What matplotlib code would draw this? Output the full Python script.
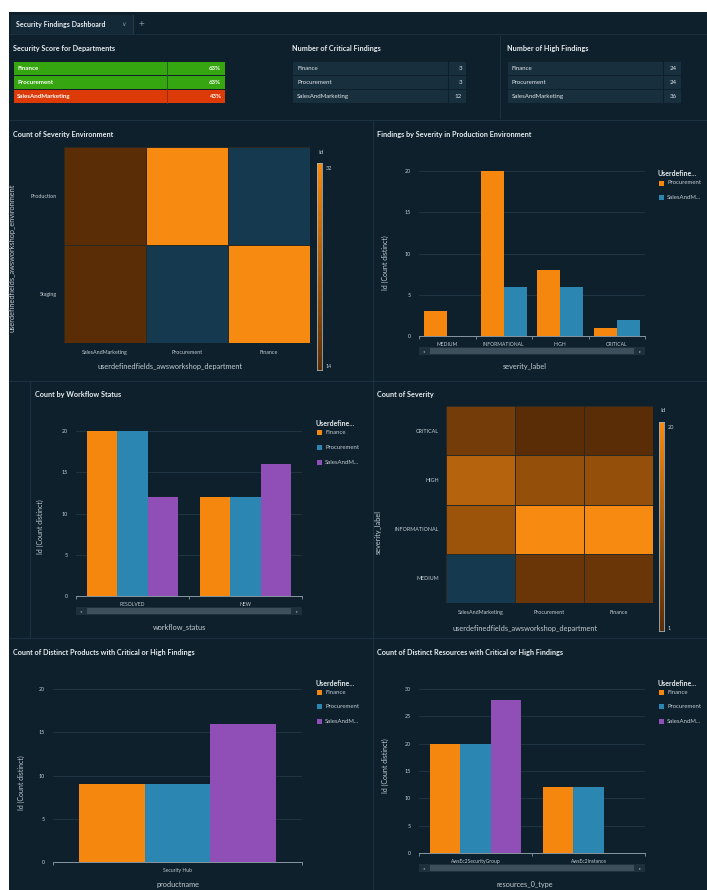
import matplotlib
matplotlib.use('Agg')
import matplotlib.pyplot as plt
import numpy as np
from matplotlib.patches import Rectangle
from matplotlib.lines import Line2D
from matplotlib.colors import LinearSegmentedColormap

plt.rcParams['font.family'] = ['Lato', 'DejaVu Sans']

# ---------------- data ----------------
departments = ['Finance', 'Procurement', 'SalesAndMarketing']
score_pct = [63, 63, 43]
critical_findings = [3, 3, 12]
high_findings = [24, 24, 36]

env_departments = ['SalesAndMarketing', 'Procurement', 'Finance']
environments = ['Production', 'Staging']
env_production = [14, 32, np.nan]
env_staging = [14, np.nan, 32]

prod_severity = ['MEDIUM', 'INFORMATIONAL', 'HIGH', 'CRITICAL']
prod_procurement = [3, 20, 8, 1]
prod_salesandmarketing = [0, 6, 6, 2]

workflow_status = ['RESOLVED', 'NEW']
wf_finance = [20, 12]
wf_procurement = [20, 12]
wf_salesandmarketing = [12, 16]

severity_rows = ['CRITICAL', 'HIGH', 'INFORMATIONAL', 'MEDIUM']
sev_salesandmarketing = [4, 12, 9, np.nan]
sev_procurement = [1, 8, 20, 3]
sev_finance = [1, 8, 20, 3]

products = ['Security Hub']
prod_finance_cnt = [9]
prod_procurement_cnt = [9]
prod_sales_cnt = [16]

resource_types = ['AwsEc2SecurityGroup', 'AwsEc2Instance']
res_finance = [20, 12]
res_procurement = [20, 12]
res_salesandmarketing = [28, 0]

# ---------------- style ----------------
W, H = 707, 890
BG = '#0e202c'
LINE = '#1d3241'
TXT = '#e8edf0'
TICK = '#c3ccd2'
ORANGE = '#f5870f'
BLUE = '#2b87b2'
PURPLE = '#8f4fb6'
NAVY = '#15394f'
GRID = '#1f3544'

fig = plt.figure(figsize=(W / 100, H / 100), dpi=100, facecolor='white')


def ax_px(x0, y0, x1, y1):
    a = fig.add_axes([x0 / W, 1 - y1 / H, (x1 - x0) / W, (y1 - y0) / H])
    a.set_facecolor('none')
    return a


def T(x, y, s, size=4.5, color=TXT, weight='normal', ha='left', va='center', **kw):
    fig.text(x / W, 1 - y / H, s, fontsize=size, color=color, weight=weight,
             ha=ha, va=va, **kw)


def R(x, y, w, h, color, z=1, **kw):
    fig.add_artist(Rectangle((x / W, 1 - (y + h) / H), w / W, h / H,
                             transform=fig.transFigure, facecolor=color,
                             edgecolor='none', zorder=z, **kw))


def L(x0, y0, x1, y1, color=LINE, lw=0.8):
    fig.add_artist(Line2D([x0 / W, x1 / W], [1 - y0 / H, 1 - y1 / H],
                          transform=fig.transFigure, color=color, lw=lw, zorder=1))


# background
R(9, 12, W - 9, H - 12, BG, z=-5)
# tab bar
R(11, 15, 122, 19, '#142937', z=-4)
T(16, 25, 'Security Findings Dashboard', size=5.0, weight='bold')
T(124, 24, '\u2228', size=4.5, color='#8495a0', ha='center')
L(133, 15, 133, 33, color='#26394a')
T(141, 24, '+', size=7, color='#8495a0', ha='center')
L(9, 34, W, 34, color='#1b2f3c')

# panel dividers
L(9, 120, W, 120)
L(9, 381, W, 381)
L(9, 638, W, 638)
L(373, 120, 373, H)
L(30, 381, 30, 638)
L(500, 36, 500, 118)

# ---------------- tables ----------------
T(13, 48, 'Security Score for Departments', size=5.2, weight='bold')
row_y = [62, 76, 90]
for i, (d, v) in enumerate(zip(departments, score_pct)):
    c = '#35a60f' if v >= 50 else '#dc3b07'
    R(14, row_y[i], 211, 13, c)
    L(167, row_y[i], 167, row_y[i] + 13, color='#1f5a10' if v >= 50 else '#8d2a08', lw=0.6)
    T(17, row_y[i] + 6.5, d, size=4.4, color='white', weight='bold')
    T(221, row_y[i] + 6.5, f'{v}%', size=4.4, color='white', weight='bold', ha='right')


def count_table(x0, x1, xdiv, title, values):
    T(x0 - 1, 48, title, size=5.2, weight='bold')
    for i, (d, v) in enumerate(zip(departments, values)):
        R(x0, row_y[i], x1 - x0, 13, '#18303e')
        L(xdiv, row_y[i], xdiv, row_y[i] + 13, color=BG, lw=0.8)
        T(x0 + 4, row_y[i] + 6.5, d, size=4.4, color='#dfe5e9')
        T(x1 - 4, row_y[i] + 6.5, str(v), size=4.4, color='#dfe5e9', ha='right')


count_table(293, 466, 448, 'Number of Critical Findings', critical_findings)
count_table(508, 681, 663, 'Number of High Findings', high_findings)

# ---------------- colormap ----------------
cmap = LinearSegmentedColormap.from_list('qs', ['#5a2d07', '#f78a10'])
cmap.set_bad(NAVY)


def heatmap(rect, data, rows, cols, vmin, vmax, cb_rect, title, tpos, xlabel, xlpos,
            ylabel, ylpos):
    ax = ax_px(*rect)
    arr = np.ma.masked_invalid(np.array(data, dtype=float))
    ax.pcolormesh(arr, cmap=cmap, vmin=vmin, vmax=vmax, edgecolors='#2a2a22',
                  linewidth=0.4)
    ax.set_xlim(0, len(cols))
    ax.set_ylim(len(rows), 0)
    ax.set_xticks(np.arange(len(cols)) + 0.5)
    ax.set_xticklabels(cols)
    ax.set_yticks(np.arange(len(rows)) + 0.5)
    ax.set_yticklabels(rows)
    ax.tick_params(length=0, labelsize=3.9, colors=TICK, pad=5)
    for s in ax.spines.values():
        s.set_visible(False)
    # colorbar
    cax = ax_px(*cb_rect)
    grad = np.linspace(vmax, vmin, 256).reshape(-1, 1)
    cax.imshow(grad, aspect='auto', cmap=cmap, vmin=vmin, vmax=vmax,
               extent=[0, 1, vmin, vmax])
    cax.set_xticks([])
    cax.set_yticks([])
    for s in cax.spines.values():
        s.set_color('#a7b0b6')
        s.set_linewidth(0.6)
    x1 = cb_rect[2] + 4
    T(x1, cb_rect[1] + 5, f'{vmax:g}', size=4.0, color=TICK)
    T(x1, cb_rect[3] - 3, f'{vmin:g}', size=4.0, color=TICK)
    T(cb_rect[0] + 1, cb_rect[1] - 11, 'Id', size=4.6, color=TICK)
    T(tpos[0], tpos[1], title, size=5.2, weight='bold')
    T(xlpos[0], xlpos[1], xlabel, size=5.3, color=TICK, ha='center')
    T(ylpos[0], ylpos[1], ylabel, size=5.3, color=TICK, ha='center', rotation=90)
    return ax


heatmap((64, 147, 310, 343), [env_production, env_staging], environments,
        env_departments, 14, 32, (317, 163, 322, 370),
        'Count of Severity Environment', (13, 135),
        'userdefinedfields_awsworkshop_department', (170, 367),
        'userdefinedfields_awsworkshop_environment', (12, 258))

sev_matrix = [[a, b, c] for a, b, c in zip(sev_salesandmarketing, sev_procurement, sev_finance)]
heatmap((446, 406, 653, 603), sev_matrix, severity_rows, env_departments, 1, 20,
        (659, 422, 664, 631), 'Count of Severity', (377, 395),
        'userdefinedfields_awsworkshop_department', (525, 628),
        'severity_label', (378, 532))


# ---------------- bar charts ----------------
def bar_chart(rect, cats, series, names, colors, ymax, ystep, bw, title, tpos,
              xlabel, xlpos, ylpos, legend_pos, scrollbar=True):
    ax = ax_px(*rect)
    x = np.arange(len(cats))
    n = len(series)
    for i, (vals, c) in enumerate(zip(series, colors)):
        ax.bar(x + (i - (n - 1) / 2) * bw, vals, bw, color=c, zorder=3)
    ax.set_xlim(-0.5, len(cats) - 0.5)
    ax.set_ylim(0, ymax)
    ax.set_yticks(np.arange(0, ymax + 0.1, ystep))
    ax.yaxis.grid(True, color=GRID, lw=0.7, zorder=0)
    ax.set_xticks(x)
    ax.set_xticklabels(cats)
    ax.set_xticks(np.arange(len(cats) + 1) - 0.5, minor=True)
    ax.tick_params(axis='x', which='major', length=0, labelsize=3.6, colors=TICK, pad=4)
    ax.tick_params(axis='x', which='minor', length=2.5, color='#8796a0', width=0.6)
    ax.tick_params(axis='y', length=0, labelsize=3.8, colors=TICK, pad=6)
    for k in ['top', 'right', 'left']:
        ax.spines[k].set_visible(False)
    ax.spines['bottom'].set_color('#8796a0')
    ax.spines['bottom'].set_linewidth(0.7)
    ax.spines['bottom'].set_zorder(4)
    x0, y0, x1, y1 = rect
    if scrollbar:
        sy = y1 + 11
        R(x0, sy, x1 - x0, 8, '#1d303c')
        R(x0 + 11, sy + 1, (x1 - x0) - 22, 6, '#3d4f5a')
        T(x0 + 5, sy + 4, '\u25c2', size=3, color='#8899a3', ha='center')
        T(x1 - 5, sy + 4, '\u25b8', size=3, color='#8899a3', ha='center')
    T(tpos[0], tpos[1], title, size=5.2, weight='bold')
    T(xlpos[0], xlpos[1], xlabel, size=5.3, color=TICK, ha='center')
    T(ylpos[0], ylpos[1], 'Id (Count distinct)', size=5.0, color=TICK, ha='center',
      rotation=90)
    lx, ly = legend_pos
    T(lx, ly, 'Userdefine...', size=5.0, weight='bold', color=TXT)
    for j, (nm, c) in enumerate(zip(names, colors)):
        yy = ly + 9 + j * 14.7
        R(lx + 2, yy - 2.5, 5, 5, c)
        T(lx + 10, yy, nm, size=4.3, color=TICK)
    return ax


bar_chart((419, 171, 645, 336), prod_severity,
          [prod_procurement, prod_salesandmarketing], ['Procurement', 'SalesAndM...'],
          [ORANGE, BLUE], 20, 5, 0.41,
          'Findings by Severity in Production Environment', (377, 135),
          'severity_label', (525, 367), (385, 263), (657, 174))

bar_chart((76, 431, 302, 596), workflow_status,
          [wf_finance, wf_procurement, wf_salesandmarketing],
          ['Finance', 'Procurement', 'SalesAndM...'], [ORANGE, BLUE, PURPLE], 20, 5, 0.27,
          'Count by Workflow Status', (35, 395), 'workflow_status', (180, 627),
          (40, 527), (315, 424))

bar_chart((53, 689, 302, 862), products,
          [prod_finance_cnt, prod_procurement_cnt, prod_sales_cnt],
          ['Finance', 'Procurement', 'SalesAndM...'], [ORANGE, BLUE, PURPLE], 20, 5, 0.265,
          'Count of Distinct Products with Critical or High Findings', (13, 653),
          'productname', (178, 885), (21, 783), (315, 683), scrollbar=False)

bar_chart((419, 689, 645, 853), resource_types,
          [res_finance, res_procurement, res_salesandmarketing],
          ['Finance', 'Procurement', 'SalesAndM...'], [ORANGE, BLUE, PURPLE], 30, 5, 0.27,
          'Count of Distinct Resources with Critical or High Findings', (377, 653),
          'resources_0_type', (525, 885), (385, 766), (657, 683))

fig.savefig('out.png', dpi=100, facecolor='white')
